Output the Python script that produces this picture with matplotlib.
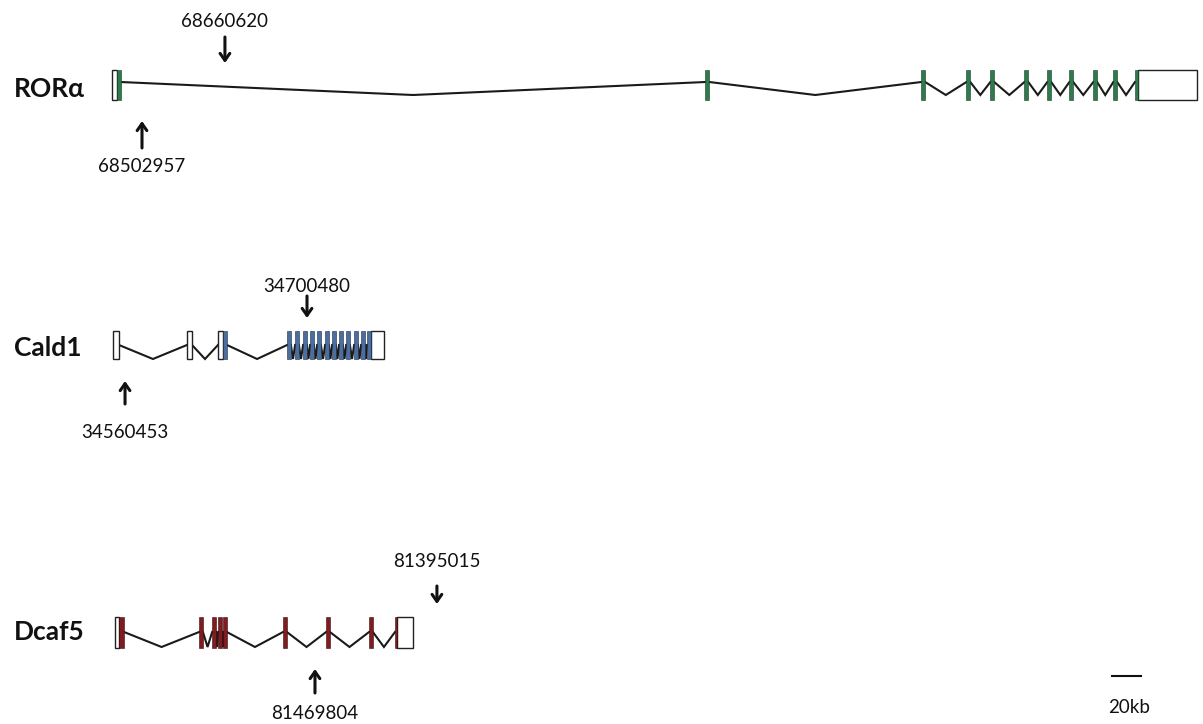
import matplotlib
matplotlib.use("Agg")
import matplotlib.pyplot as plt
from matplotlib.patches import Rectangle

# ---------------- data (positions in kb from gene start) ----------------
GENES = ["RORα", "Cald1", "Dcaf5"]

ROR_EXON_START = [-0.7, 2.8, 408.6, 557.5, 588.6, 605.1, 628.6, 644.4, 659.6, 676.1, 689.9, 704.8, 707.0]
ROR_EXON_END   = [2.8, 5.2, 411.2, 560.1, 591.2, 607.7, 631.2, 647.0, 662.2, 678.7, 692.5, 707.0, 747.6]
ROR_CODING     = [0, 1, 1, 1, 1, 1, 1, 1, 1, 1, 1, 1, 0]

CALD_EXON_START = [0.0, 51.0, 72.4, 75.9, 120.1, 125.6, 131.1, 135.9, 140.8, 146.3, 151.1, 155.9, 160.8, 166.3, 171.1, 175.2, 177.9]
CALD_EXON_END   = [4.1, 54.5, 75.9, 78.6, 122.7, 128.2, 133.7, 138.5, 143.4, 148.9, 153.7, 158.5, 163.4, 168.9, 173.7, 177.9, 186.9]
CALD_CODING     = [0, 0, 0, 1, 1, 1, 1, 1, 1, 1, 1, 1, 1, 1, 1, 1, 0]

DCAF_EXON_START = [1.4, 4.1, 59.4, 68.4, 72.5, 75.9, 117.3, 147.0, 176.6, 194.5, 195.9]
DCAF_EXON_END   = [4.1, 7.6, 62.0, 71.0, 75.1, 78.5, 119.9, 149.6, 179.2, 195.9, 206.9]
DCAF_CODING     = [0, 1, 1, 1, 1, 1, 1, 1, 1, 1, 0]

# arrows: position (kb) and genomic coordinate label
ARROW_POS    = {"RORα": [77.2, 20.0], "Cald1": [133.8, 8.3], "Dcaf5": [223.4, 139.3]}
ARROW_LABELS = {"RORα": ["68660620", "68502957"],
                "Cald1": ["34700480", "34560453"],
                "Dcaf5": ["81395015", "81469804"]}
ARROW_DIR    = ["down", "up"]

SCALE_KB = 20
SCALE_LABEL = "20kb"

# ---------------- layout / style ----------------
PX_PER_KB = 1.45
X0_PX = 113
W, H = 1203, 724

colors = {"RORα": "#2e7a4c", "Cald1": "#4a6e9e", "Dcaf5": "#7e1c20"}
edges = {"RORα": "#163d24", "Cald1": "#1c2c44", "Dcaf5": "#3a0a0c"}
rows = {
    "RORα": dict(top=70, bot=100, att=82, val=95, lab=97,
                 arrow_down=(37, 63, 27), arrow_up=(148, 121, 172)),
    "Cald1": dict(top=331, bot=359, att=345, val=359, lab=356,
                  arrow_down=(296, 318, 292), arrow_up=(404, 381, 438)),
    "Dcaf5": dict(top=617, bot=648, att=632, val=647, lab=640,
                  arrow_down=(586, 604, 567), arrow_up=(693, 669, 719)),
}
exons = {
    "RORα": (ROR_EXON_START, ROR_EXON_END, ROR_CODING),
    "Cald1": (CALD_EXON_START, CALD_EXON_END, CALD_CODING),
    "Dcaf5": (DCAF_EXON_START, DCAF_EXON_END, DCAF_CODING),
}
FONT = ["Lato", "DejaVu Sans"]

fig = plt.figure(figsize=(W / 100, H / 100), dpi=100)
ax = fig.add_axes([0, 0, 1, 1])
ax.set_xlim(-X0_PX / PX_PER_KB, (W - X0_PX) / PX_PER_KB)
ax.set_ylim(H, 0)
ax.axis("off")

for g in GENES:
    r = rows[g]
    st, en, cod = exons[g]
    for i in range(len(st) - 1):
        a, b = en[i], st[i + 1]
        if b - a > 0.3:
            mid = (a + b) / 2
            ax.plot([a, mid, b], [r["att"], r["val"], r["att"]], color="#1a1a1a",
                    lw=1.5, solid_joinstyle="miter", zorder=1)
    for s, e, c in zip(st, en, cod):
        if c:
            ax.add_patch(Rectangle((s, r["top"]), e - s, r["bot"] - r["top"],
                                   facecolor=colors[g], edgecolor=edges[g],
                                   lw=0.4, zorder=3))
        else:
            ax.add_patch(Rectangle((s, r["top"]), e - s, r["bot"] - r["top"],
                                   facecolor="white", edgecolor="#222222",
                                   lw=1.0, zorder=2))
    ax.text(14 / PX_PER_KB - X0_PX / PX_PER_KB, r["lab"], g, fontsize=19,
            fontweight="bold", family=FONT, va="baseline",
            ha="left", color="#111111")
    for pos, lab, d in zip(ARROW_POS[g], ARROW_LABELS[g], ARROW_DIR):
        tail, tip, lab_y = r["arrow_down"] if d == "down" else r["arrow_up"]
        ax.annotate("", xy=(pos, tip), xytext=(pos, tail),
                    arrowprops=dict(arrowstyle="->,head_length=0.5,head_width=0.35",
                                    lw=2.2, color="#111111", shrinkA=0, shrinkB=0))
        ax.text(pos, lab_y, lab, fontsize=13.5, family=FONT,
                ha="center", va="baseline", color="#111111")

sb_start = (1112 - X0_PX) / PX_PER_KB
ax.plot([sb_start, sb_start + SCALE_KB], [676, 676], color="#111111", lw=1.5)
ax.text(sb_start + SCALE_KB / 2 + 2, 713, SCALE_LABEL, fontsize=13.5,
        family=FONT, ha="center", va="baseline", color="#111111")

fig.savefig("out.png", dpi=100)
